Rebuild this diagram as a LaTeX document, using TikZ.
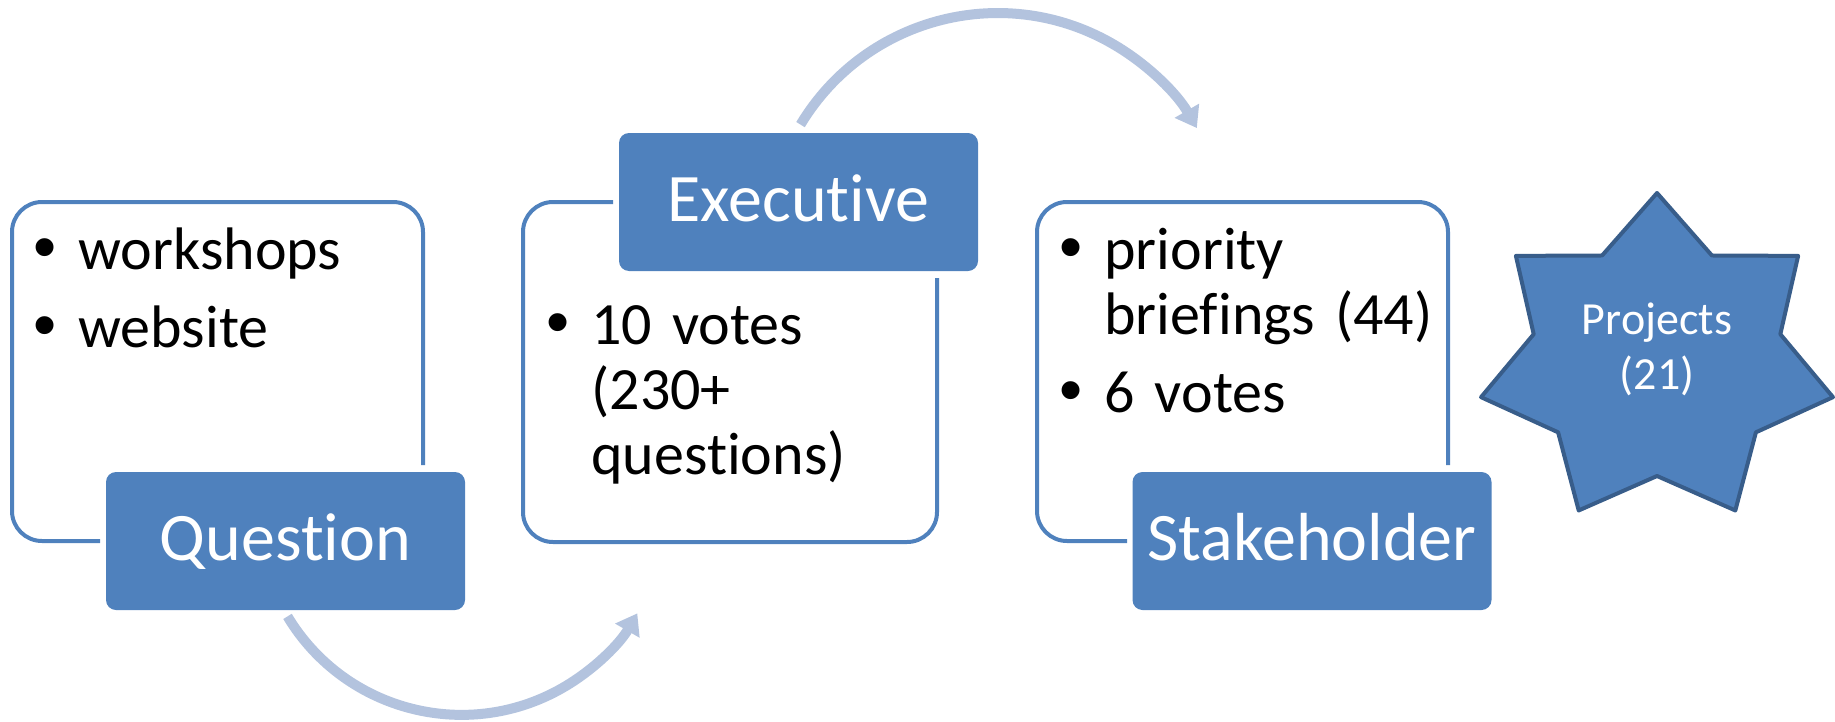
\documentclass[tikz,border=0pt]{standalone}
\usepackage{fontspec}
\setmainfont{Carlito}[RawFeature={-liga;-dlig;-clig;-calt;-hlig}]
\newfontfamily\bulletfont{Liberation Sans}
\usetikzlibrary{arrows.meta}

\definecolor{boxblue}{HTML}{4F81BD}
\definecolor{staredge}{HTML}{385D8A}
\definecolor{arcblue}{RGB}{179,195,222}

% one bullet point with hanging lines
\newcommand{\bul}[1]{\setlength{\parskip}{6.5pt}\hangindent=22.5pt\hangafter=1\noindent\makebox[22.5pt][l]{\bulletfont\fontsize{33}{33}\selectfont •}#1\par}

\begin{document}
\begin{tikzpicture}[x=0.5pt, y=-0.5pt,
    panel/.style={draw=boxblue, line width=2pt, rounded corners=15pt},
    tag/.style={fill=boxblue, text=white, rounded corners=5pt, inner sep=0pt,
      minimum width=179.5pt, minimum height=69pt, text height=19pt, text depth=0pt,
      font=\fontsize{34}{40}\selectfont},
    points/.style={anchor=base west, inner sep=0pt, text width=200pt, align=left,
      font=\fontsize{30}{32.5}\selectfont},
    turn/.style={draw=arcblue, line width=5pt, -{Triangle[width=13.5pt, length=10pt]}},
    burst/.style={fill=boxblue, draw=staredge, line width=2pt, line join=round}]

    \useasboundingbox (0,0) rectangle (1835,722);

    % Panels
    \draw[panel] (423,465) -- (423,202) -- (12,202) -- (12,541) -- (100,541);
    \draw[panel] (613,202) -- (523,202) -- (523,542) -- (937,542) -- (937,278);
    \draw[panel] (1448,465) -- (1448,202) -- (1037,202) -- (1037,541) -- (1127,541);

    % Bullet text
    \node[points] (ask) at (33,269) {\bul{workshops}\bul{website}};
    \node[points] (votes) at (546,344) {\bul{10 votes\newline(230+\newline questions)}};
    \node[points] (brief) at (1059,269) {\bul{priority\newline briefings (44)}\bul{6 votes}};

    % Tags
    \node[tag] (question) at (285.5,541) {Question};
    \node[tag] (executive) at (798.5,202) {Executive};
    \node[tag] (stakeholder) at (1312,541) {Stakeholder};

    % Arcs
    \draw[turn] ([xshift=1pt, yshift=-3pt]question.south)
        arc[start angle=149, end angle=30, radius=203];
    \draw[turn] ([xshift=1pt, yshift=4pt]executive.north)
        arc[start angle=211, end angle=330, radius=230];

    % Star
    \coordinate (star) at (1657,360);
    \draw[burst, shift={(star)}] (270:180.5 and 167)
        \foreach \k in {1,...,13} {
            -- ({270+\k*360/14}:{ifthenelse(isodd(\k),126.5,180.5)} and {ifthenelse(isodd(\k),116,167)})
        } -- cycle;
    \node[text=white, align=center, font=\fontsize{23}{27.5}\selectfont] (projects)
        at (1657,349) {Projects\\(21)};

\end{tikzpicture}
\end{document}
